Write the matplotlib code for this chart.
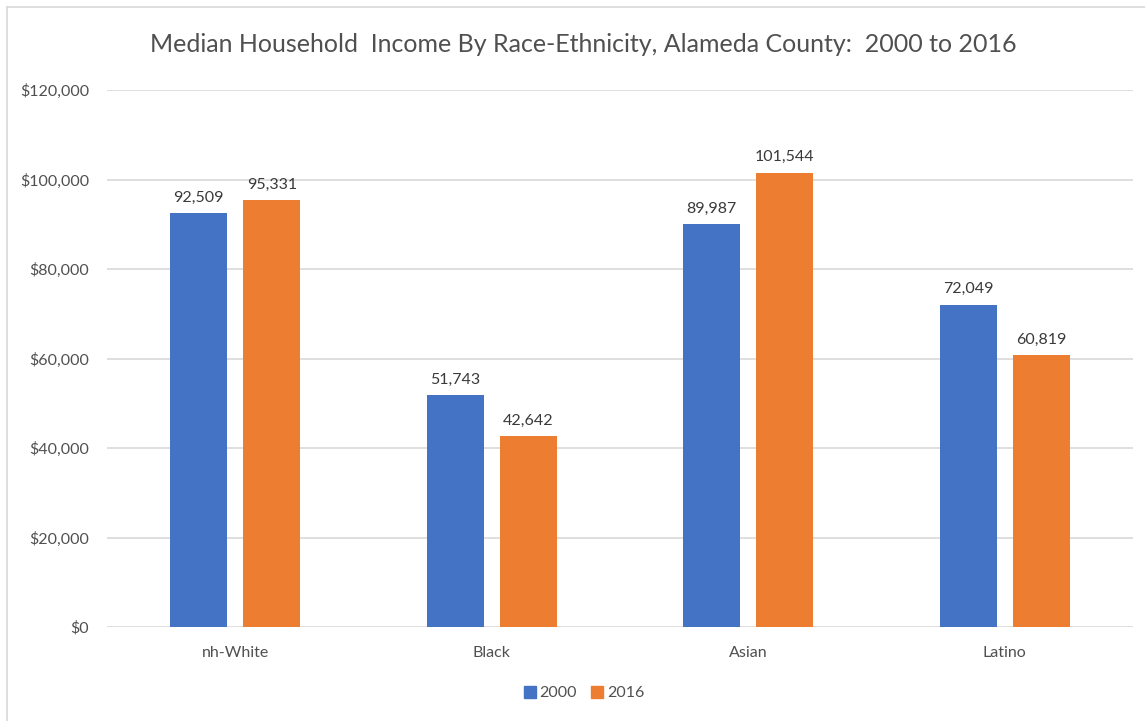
import matplotlib.pyplot as plt
import numpy as np
from matplotlib.lines import Line2D

categories = ['nh-White', 'Black', 'Asian', 'Latino']
years = ['2000', '2016']
income_2000 = [92509, 51743, 89987, 72049]
income_2016 = [95331, 42642, 101544, 60819]
yticks = [0, 20000, 40000, 60000, 80000, 100000, 120000]

plt.rcParams['font.family'] = ['Lato', 'DejaVu Sans']
grey = '#505050'
blue = '#4472C4'
orange = '#ED7D31'

fig = plt.figure(figsize=(11.45, 7.21), dpi=100)
ax = fig.add_axes([107 / 1145, 1 - 627 / 721, (1133 - 107) / 1145, (627 - 90) / 721])

x = np.arange(len(categories))
w = 0.222
off = 0.143
b1 = ax.bar(x - off, income_2000, w, color=blue, zorder=3)
b2 = ax.bar(x + off, income_2016, w, color=orange, zorder=3)

for bars in (b1, b2):
    for r in bars:
        h = r.get_height()
        ax.annotate(f'{h:,.0f}', xy=(r.get_x() + r.get_width() / 2, h),
                    xytext=(0, 6), textcoords='offset points',
                    ha='center', va='bottom', fontsize=11.5, color='#3a3a3a')

ax.set_xlim(-0.5, 3.5)
ax.set_ylim(0, 120000)
ax.set_yticks(yticks)
ax.set_yticklabels([f'${v:,.0f}' for v in yticks])
ax.set_xticks(x)
ax.set_xticklabels(categories)
ax.tick_params(axis='both', length=0, labelsize=11.5, labelcolor=grey)
ax.tick_params(axis='y', pad=13)
ax.tick_params(axis='x', pad=14)
ax.grid(axis='y', color='#d9d9d9', linewidth=1.2, zorder=0)
for s in ax.spines.values():
    s.set_visible(False)

fig.text(583 / 1145, 1 - 45 / 721, 'Median Household  Income By Race-Ethnicity, Alameda County:  2000 to 2016',
         ha='center', va='center', fontsize=18, color=grey)

handles = [Line2D([], [], marker='s', linestyle='none', markersize=8, color=c) for c in (blue, orange)]
fig.legend(handles, years, loc='center', bbox_to_anchor=(583 / 1145, 1 - 693 / 721),
           ncol=2, frameon=False, fontsize=11.5, labelcolor=grey,
           handletextpad=0.1, columnspacing=0.8, handlelength=1.0)

# light border like the original chart frame
fig.add_artist(Line2D([7 / 1145, 1], [1 - 7 / 721, 1 - 7 / 721], color='#d9d9d9', linewidth=1.2))
fig.add_artist(Line2D([7 / 1145, 7 / 1145], [0, 1 - 7 / 721], color='#d9d9d9', linewidth=1.2))

fig.savefig('out.png', dpi=100)
